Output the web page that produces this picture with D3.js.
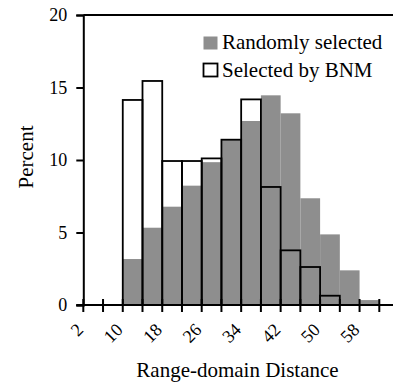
<!DOCTYPE html>
<html>
<head>
<meta charset="utf-8">
<script src="https://cdn.jsdelivr.net/npm/d3@7"></script>
<style>
  html, body { margin: 0; padding: 0; background: #fff; }
  svg { display: block; }
  text { font-family: "Liberation Serif", "Times New Roman", serif; fill: #000; }
</style>
</head>
<body>
<svg id="chart" width="393" height="382"></svg>
<script>
// Bin start values (each bin is 4 units wide)
const binStarts = [10, 14, 18, 22, 26, 30, 34, 38, 42, 46, 50, 54, 58];
const binWidth = 4;
const randomlySelected = [3.17, 5.33, 6.78, 8.23, 9.85, 11.4, 12.69, 14.46, 13.22, 7.36, 4.87, 2.39, 0.34];
const selectedByBNM   = [14.14, 15.45, 9.93, 9.93, 10.11, 11.4, 14.18, 8.14, 3.77, 2.62, 0.64, 0, 0];
const xTickValues = [2, 6, 10, 14, 18, 22, 26, 30, 34, 38, 42, 46, 50, 54, 58, 62];
const xTickLabels = [2, 10, 18, 26, 34, 42, 50, 58];
const yTickValues = [0, 5, 10, 15, 20];
const seriesNames = ["Randomly selected", "Selected by BNM"];

const svg = d3.select("#chart");
const x = d3.scaleLinear().domain([2, 62]).range([83.3, 379.3]);
const y = d3.scaleLinear().domain([0, 20]).range([305, 15]);
const W = 393;

// gray bars
svg.append("g").selectAll("rect").data(binStarts).join("rect")
  .attr("x", (d) => x(d))
  .attr("width", (d) => x(d + binWidth) - x(d))
  .attr("y", (d, i) => y(randomlySelected[i]))
  .attr("height", (d, i) => y(0) - y(randomlySelected[i]))
  .attr("fill", "#8e8e8e");

// BNM outlined bars
svg.append("g").selectAll("rect").data(binStarts.filter((d, i) => selectedByBNM[i] > 0)).join("rect")
  .attr("x", (d) => x(d))
  .attr("width", (d) => x(d + binWidth) - x(d))
  .attr("y", (d) => y(selectedByBNM[binStarts.indexOf(d)]))
  .attr("height", (d) => y(0) - y(selectedByBNM[binStarts.indexOf(d)]))
  .attr("fill", "none")
  .attr("stroke", "#000")
  .attr("stroke-width", 1.8);

// X axis
const xAxisG = svg.append("g").attr("transform", `translate(0,${y(0)})`);
xAxisG.append("line").attr("x1", x(2) - 7).attr("x2", W).attr("y1", 0).attr("y2", 0)
  .attr("stroke", "#000").attr("stroke-width", 2);
xAxisG.selectAll("line.tick").data(xTickValues).join("line").attr("class", "tick")
  .attr("x1", (d) => x(d)).attr("x2", (d) => x(d))
  .attr("y1", -6).attr("y2", 7)
  .attr("stroke", "#000").attr("stroke-width", 2);
xAxisG.selectAll("text").data(xTickLabels).join("text")
  .attr("transform", (d) => `translate(${x(d) + 1},26) rotate(-45)`)
  .attr("text-anchor", "end")
  .attr("font-size", 18)
  .text((d) => d);

// Y axis
const yAxis = d3.axisLeft(y).tickValues(yTickValues).tickSize(7).tickPadding(9);
const yAxisG = svg.append("g").attr("transform", `translate(${x(2)},0)`).call(yAxis);
yAxisG.select(".domain").attr("stroke-width", 2);
yAxisG.selectAll(".tick line").attr("stroke-width", 2);
yAxisG.selectAll(".tick text").attr("font-size", 18)
  .attr("font-family", '"Liberation Serif", "Times New Roman", serif');

// top frame line
svg.append("line").attr("x1", x(2)).attr("x2", W).attr("y1", y(20)).attr("y2", y(20))
  .attr("stroke", "#000").attr("stroke-width", 2);

// Axis titles
svg.append("text").attr("x", 237.5).attr("y", 377).attr("text-anchor", "middle")
  .attr("font-size", 21).text("Range-domain Distance");
svg.append("text").attr("transform", "translate(33,157) rotate(-90)").attr("text-anchor", "middle")
  .attr("font-size", 21).text("Percent");

// Legend
const legend = svg.append("g");
legend.append("rect").attr("x", 203.5).attr("y", 36.5).attr("width", 14).attr("height", 13).attr("fill", "#8e8e8e");
legend.append("rect").attr("x", 203.5).attr("y", 63.5).attr("width", 14).attr("height", 13)
  .attr("fill", "#fff").attr("stroke", "#000").attr("stroke-width", 1.8);
legend.append("text").attr("x", 222).attr("y", 49).attr("font-size", 21).text(seriesNames[0]);
legend.append("text").attr("x", 222).attr("y", 77).attr("font-size", 21).text(seriesNames[1]);
</script>
</body>
</html>
